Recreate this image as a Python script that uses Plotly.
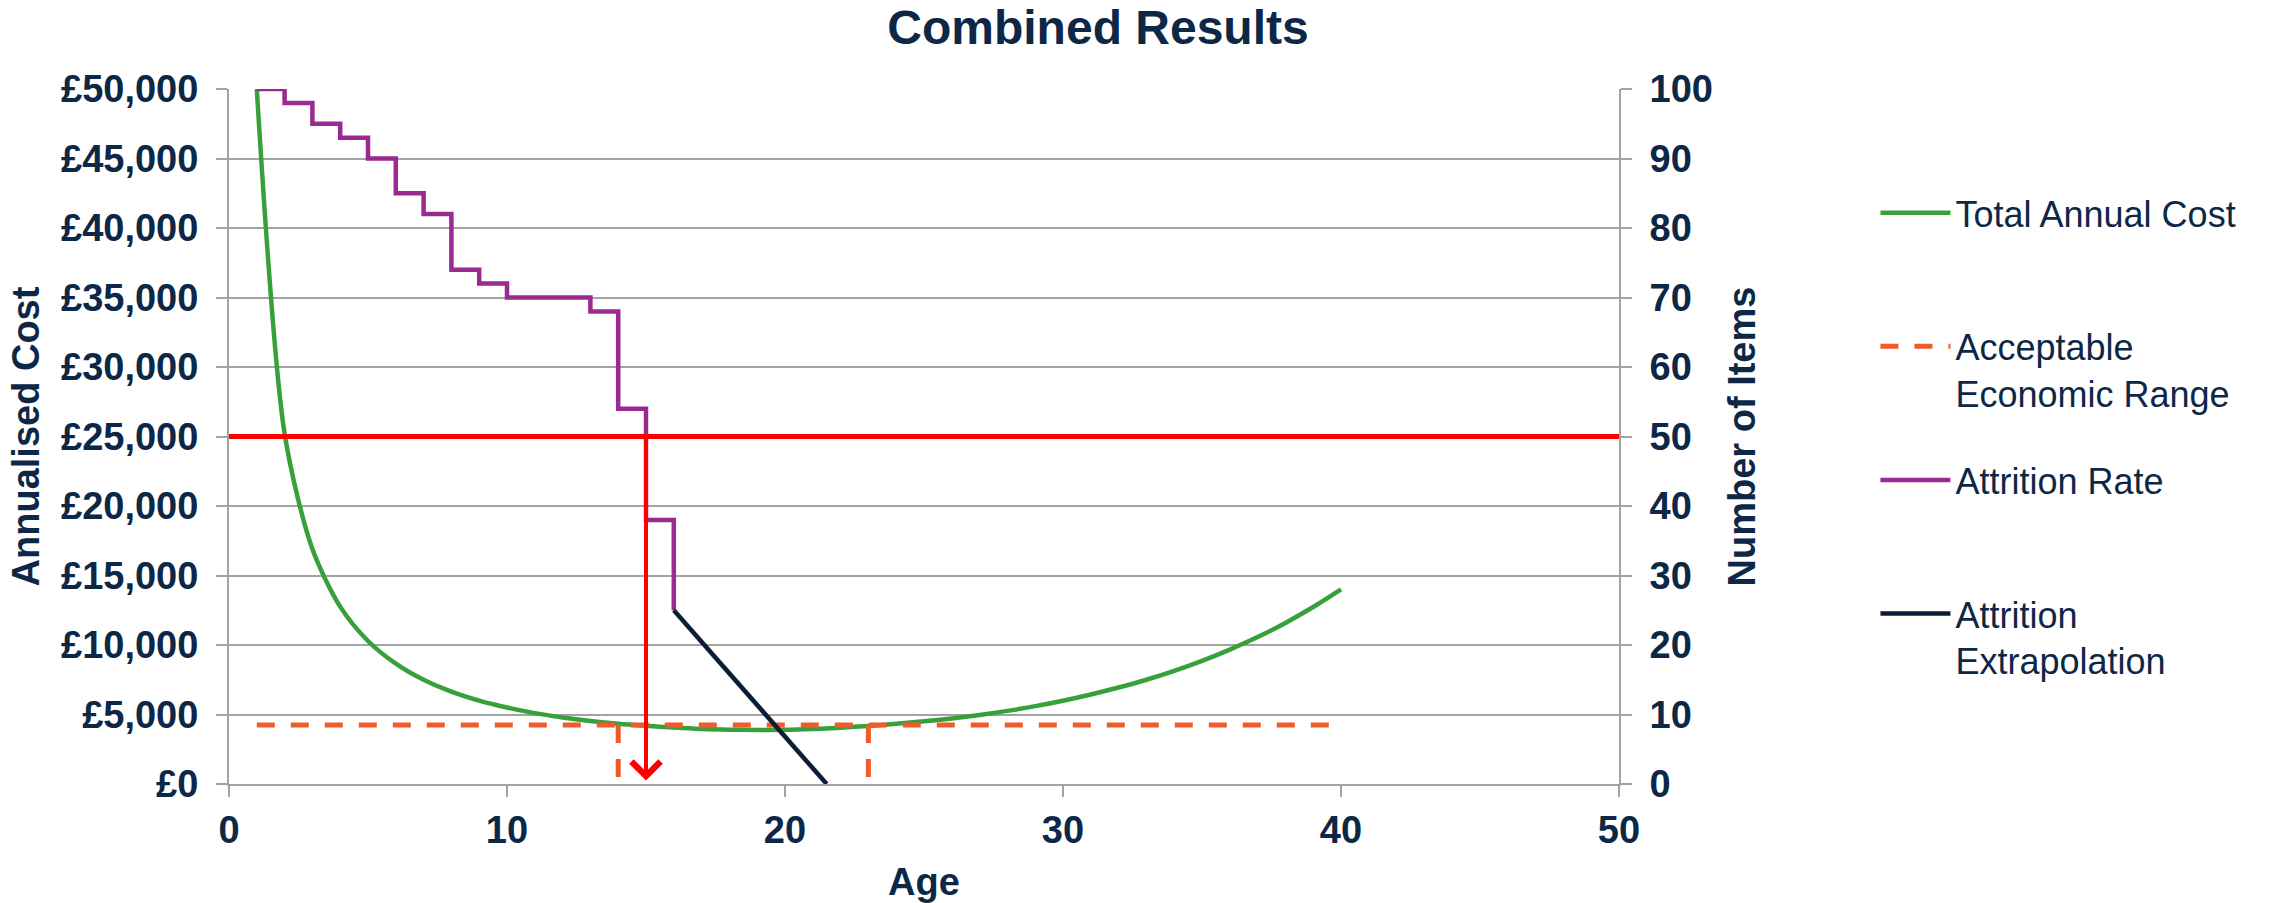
import plotly.graph_objects as go

# ---------------- data ----------------
ages = list(range(1, 41))
total_cost = [50000, 25210, 16900, 12760, 10290, 8660, 7500, 6650, 6000, 5500,
              5100, 4790, 4540, 4340, 4190, 4060, 3960, 3910, 3890, 3900,
              3960, 4050, 4180, 4330, 4510, 4720, 4970, 5260, 5600, 5990,
              6440, 6940, 7500, 8140, 8860, 9670, 10570, 11590, 12730, 14000]

range_cost = 4250
range_start_age = 1
range_end_age = 40
range_lower_age = 14
range_upper_age = 23

attr_ages = list(range(1, 17))
attr_items = [100, 98, 95, 93, 90, 85, 82, 74, 72, 70, 70, 70, 68, 54, 38, 25]

extrap_ages = [16, 21.5]
extrap_items = [25, 0]

threshold_items = 50
threshold_ages = [0, 50]
replacement_age = 15

x_ticks = [0, 10, 20, 30, 40, 50]

# ---------------- styling ----------------
NAVY = '#0D2847'
GRID = '#A3A3A3'
FONT = 'Liberation Sans, Arial, sans-serif'

fig = go.Figure()

fig.add_trace(go.Scatter(
    x=ages, y=total_cost, mode='lines', name='Total Annual Cost<br> ',
    line=dict(color='#38A03A', width=4.5, shape='spline', smoothing=0.8),
    legendgroup='g1', yaxis='y'))

fig.add_trace(go.Scatter(
    x=[range_start_age, range_end_age, None, range_lower_age, range_lower_age, None,
       range_upper_age, range_upper_age],
    y=[range_cost, range_cost, None, range_cost, 0, None, range_cost, 0],
    mode='lines', name='Acceptable<br>Economic Range',
    line=dict(color='#F15A2B', width=5, dash='18px,16px'),
    legendgroup='g2', yaxis='y'))

fig.add_trace(go.Scatter(
    x=attr_ages, y=attr_items, mode='lines', name='Attrition Rate<br> ',
    line=dict(color='#9A2A90', width=4.5, shape='hv'),
    legendgroup='g3', yaxis='y2'))

fig.add_trace(go.Scatter(
    x=extrap_ages, y=extrap_items, mode='lines', name='Attrition<br>Extrapolation',
    line=dict(color='#0B1E33', width=4.5),
    legendgroup='g4', yaxis='y2'))

fig.add_trace(go.Scatter(
    x=threshold_ages, y=[threshold_items] * 2, mode='lines', showlegend=False,
    line=dict(color='#FF0000', width=5), yaxis='y2', hoverinfo='skip'))

fig.add_annotation(
    x=replacement_age, y=0.5, xref='x', yref='y2',
    ax=replacement_age, ay=threshold_items, axref='x', ayref='y2',
    showarrow=True, arrowhead=4, arrowsize=1.4, arrowwidth=4, arrowcolor='#FF0000',
    text='')

tick_font = dict(family=FONT, size=38, color=NAVY, weight='bold')
title_font = dict(family=FONT, size=38, color=NAVY, weight='bold')

fig.update_layout(
    width=2295, height=903,
    margin=dict(l=229, r=676, t=89, b=119, autoexpand=False),
    paper_bgcolor='white', plot_bgcolor='white',
    title=dict(text='Combined Results', x=1098 / 2295, xref='container', xanchor='center',
               y=1 - 27 / 903, yref='container', yanchor='middle',
               font=dict(family=FONT, size=48, color=NAVY, weight='bold')),
    xaxis=dict(range=[0, 50], tickvals=x_ticks, showgrid=False, zeroline=False,
               showline=True, linecolor=GRID, linewidth=2, automargin=False,
               ticks='outside', ticklen=11, tickwidth=2, tickcolor=GRID,
               tickfont=tick_font,
               title=dict(text='Age', font=title_font, standoff=19)),
    yaxis=dict(range=[0, 50000], dtick=5000, tickprefix='£', tickformat=',d',
               showgrid=True, gridcolor=GRID, gridwidth=2, zeroline=False,
               showline=True, linecolor=GRID, linewidth=2, automargin=False,
               ticks='outside', ticklen=11, tickwidth=2, tickcolor=GRID,
               tickfont=tick_font, ticklabelstandoff=10,
               title=dict(text='Annualised Cost', font=title_font, standoff=10)),
    yaxis2=dict(range=[0, 100], dtick=10, overlaying='y', side='right',
                showgrid=False, zeroline=False, automargin=False,
                showline=True, linecolor=GRID, linewidth=2,
                ticks='outside', ticklen=11, tickwidth=2, tickcolor=GRID,
                tickfont=tick_font, ticklabelstandoff=10,
                title=dict(text='Number of Items', font=title_font, standoff=16)),
    legend=dict(x=1.1845, xanchor='left', y=0.865, yanchor='top',
                font=dict(family=FONT, size=36, color=NAVY),
                traceorder='grouped', tracegroupgap=37, valign='top',
                itemwidth=70,
                bgcolor='rgba(0,0,0,0)'),
    showlegend=True,
)

fig.write_html('out.html')
